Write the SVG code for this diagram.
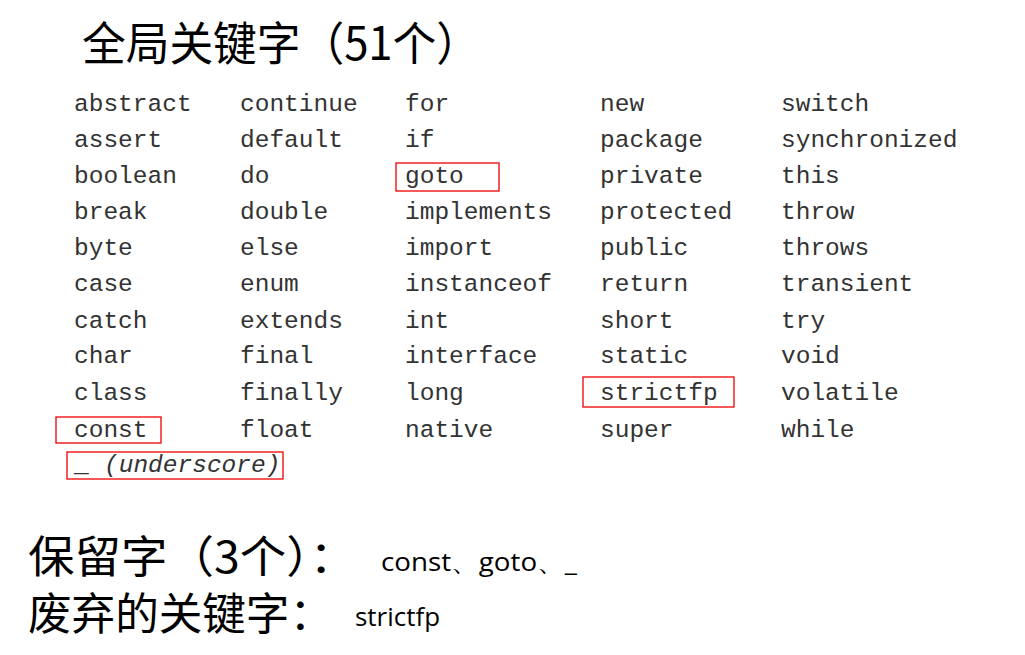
<svg xmlns="http://www.w3.org/2000/svg" width="1025" height="655" viewBox="0 0 1025 655">
<style>
.t{font-family:"Noto Sans CJK SC","Liberation Sans",sans-serif;fill:#000}
.k{font-family:"Liberation Mono",monospace;font-size:24.5px;fill:#333}
.s{font-family:"Open Sans","Liberation Sans",sans-serif;font-size:25px;fill:#000}
.b{fill:none;stroke:#e00;stroke-width:1.3}
</style>
<rect width="1025" height="655" fill="#fff"/>
<text class="t" x="82" y="60" font-size="46" textLength="398" lengthAdjust="spacingAndGlyphs">全局关键字（51个）</text>
<g id="keywords">
<text class="k" y="111"><tspan x="74">abstract</tspan><tspan x="240">continue</tspan><tspan x="405">for</tspan><tspan x="600">new</tspan><tspan x="781">switch</tspan></text>
<text class="k" y="147"><tspan x="74">assert</tspan><tspan x="240">default</tspan><tspan x="405">if</tspan><tspan x="600">package</tspan><tspan x="781">synchronized</tspan></text>
<text class="k" y="183"><tspan x="74">boolean</tspan><tspan x="240">do</tspan><tspan x="405">goto</tspan><tspan x="600">private</tspan><tspan x="781">this</tspan></text>
<text class="k" y="219"><tspan x="74">break</tspan><tspan x="240">double</tspan><tspan x="405">implements</tspan><tspan x="600">protected</tspan><tspan x="781">throw</tspan></text>
<text class="k" y="255"><tspan x="74">byte</tspan><tspan x="240">else</tspan><tspan x="405">import</tspan><tspan x="600">public</tspan><tspan x="781">throws</tspan></text>
<text class="k" y="291"><tspan x="74">case</tspan><tspan x="240">enum</tspan><tspan x="405">instanceof</tspan><tspan x="600">return</tspan><tspan x="781">transient</tspan></text>
<text class="k" y="328"><tspan x="74">catch</tspan><tspan x="240">extends</tspan><tspan x="405">int</tspan><tspan x="600">short</tspan><tspan x="781">try</tspan></text>
<text class="k" y="363"><tspan x="74">char</tspan><tspan x="240">final</tspan><tspan x="405">interface</tspan><tspan x="600">static</tspan><tspan x="781">void</tspan></text>
<text class="k" y="400"><tspan x="74">class</tspan><tspan x="240">finally</tspan><tspan x="405">long</tspan><tspan x="600">strictfp</tspan><tspan x="781">volatile</tspan></text>
<text class="k" y="437"><tspan x="74">const</tspan><tspan x="240">float</tspan><tspan x="405">native</tspan><tspan x="600">super</tspan><tspan x="781">while</tspan></text>
<text class="k" y="472"><tspan x="74">_</tspan><tspan x="104" font-style="italic">(underscore)</tspan></text>
</g>
<g id="boxes">
<rect class="b" x="396" y="163" width="103" height="28"/>
<rect class="b" x="56" y="417" width="105" height="26"/>
<rect class="b" x="67" y="452" width="216" height="27"/>
<rect class="b" x="583" y="377" width="151" height="30"/>
</g>
<text class="t" x="28" y="573" font-size="44" textLength="328" lengthAdjust="spacingAndGlyphs">保留字（3个）：</text>
<text class="s" x="381" y="571" textLength="196" lengthAdjust="spacingAndGlyphs">const、goto、_</text>
<text class="t" x="28" y="630" font-size="44" textLength="305" lengthAdjust="spacingAndGlyphs">废弃的关键字：</text>
<text class="s" x="355" y="626" textLength="85" lengthAdjust="spacingAndGlyphs">strictfp</text>
</svg>
